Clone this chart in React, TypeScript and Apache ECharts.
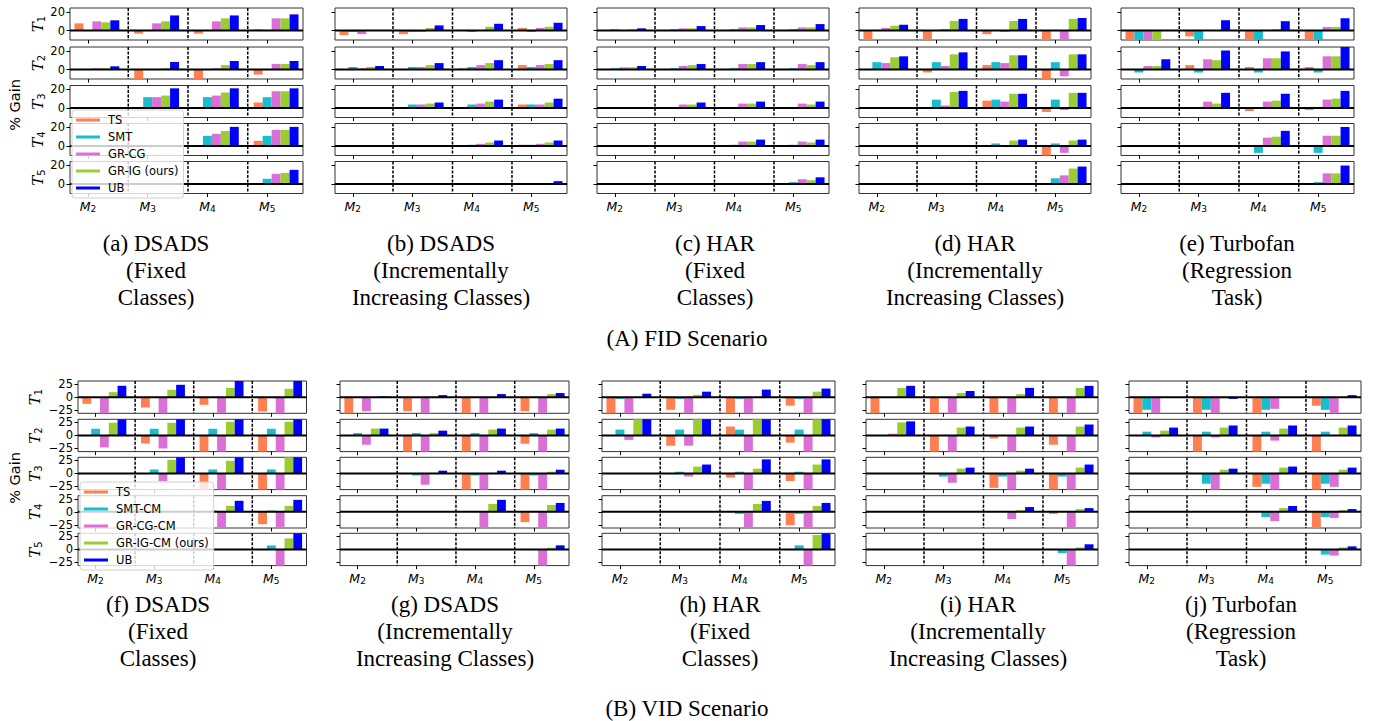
import React, { useEffect, useRef } from 'react';
import * as echarts from 'echarts';

// ---------- labels ----------
const FID_METHODS = ['TS', 'SMT', 'GR-CG', 'GR-IG (ours)', 'UB'];
const VID_METHODS = ['TS', 'SMT-CM', 'GR-CG-CM', 'GR-IG-CM (ours)', 'UB'];
const MODEL_LABELS = ['2', '3', '4', '5'];
const TASK_LABELS = ['1', '2', '3', '4', '5'];
const FID_TICKS = [0, 20];
const VID_TICKS = [-25, 0, 25];
const FID_CAPTIONS = [
  '(a) DSADS\n(Fixed\nClasses)',
  '(b) DSADS\n(Incrementally\nIncreasing Classes)',
  '(c) HAR\n(Fixed\nClasses)',
  '(d) HAR\n(Incrementally\nIncreasing Classes)',
  '(e) Turbofan\n(Regression\nTask)',
];
const VID_CAPTIONS = [
  '(f) DSADS\n(Fixed\nClasses)',
  '(g) DSADS\n(Incrementally\nIncreasing Classes)',
  '(h) HAR\n(Fixed\nClasses)',
  '(i) HAR\n(Incrementally\nIncreasing Classes)',
  '(j) Turbofan\n(Regression\nTask)',
];
const SCENARIO_TITLES = ['(A) FID Scenario', '(B) VID Scenario'];

// ---------- data: rows = tasks T1..T5, columns = models M2..M5 ----------
const n = null;
// (a) FID DSADS fixed
const A_TS = [[7.7, -3.2, -3.2, 1.4], [0, -12, -12, -5.3], [n, 0, 0, 6], [n, n, 0, 5.6], [n, n, n, 0]];
const A_SMT = [[0, 0, 0, 0], [0, 0, 0, 0], [n, 11.6, 11.6, 11.6], [n, n, 10.9, 10.9], [n, n, n, 5.6]];
const A_CG = [[9.8, 7.7, 9.8, 13], [1.4, 0, 1.4, 6], [n, 11.6, 13.3, 17.9], [n, n, 13, 17.2], [n, n, n, 10.9]];
const A_IG = [[8.8, 9.8, 13, 13], [1.4, 1.4, 4.9, 6], [n, 13.3, 16.5, 17.9], [n, n, 16.1, 17.2], [n, n, n, 11.9]];
const A_UB = [[10.9, 16.1, 16.1, 17.2], [3.5, 8.1, 9.1, 9.1], [n, 21, 21, 21], [n, n, 20.4, 20.4], [n, n, n, 15.1]];
// (b) FID DSADS incremental
const B_TS = [[-4.8, -3.8, 0, 2.8], [0, 0, 1.4, 4.8], [n, 0, 0, 3.8], [n, n, 0, 1.4], [n, n, n, 0]];
const B_SMT = [[-1.4, -1.4, -1.4, -1.4], [2.8, 2.8, 2.8, 2.8], [n, 3.8, 3.8, 3.8], [n, n, 1.4, 1.4], [n, n, n, 0.7]];
const B_CG = [[-3.8, -1.4, 0, 2.8], [1.4, 2.8, 4.8, 4.8], [n, 3.8, 4.8, 3.8], [n, n, 2.4, 2.4], [n, n, n, 0.7]];
const B_IG = [[0, 2.8, 4.1, 4.1], [2.8, 4.8, 6.9, 5.9], [n, 4.8, 6.9, 5.9], [n, n, 3.8, 3.8], [n, n, n, 0.7]];
const B_UB = [[0, 5.5, 7.2, 8.3], [3.8, 6.9, 10, 10], [n, 5.9, 9, 10], [n, n, 5.9, 5.9], [n, n, n, 3.1]];
// (c) FID HAR fixed
const C_TS = [[0, 0, 0, 0], [0, 0, 0, 0], [n, 0, 0, 0], [n, n, 0, 0], [n, n, n, 0]];
const C_SMT = [[1.4, 1.4, 1.4, 1.4], [1.4, 1.4, 1.4, 1.4], [n, 0, 0, 0], [n, n, 1.4, 1.4], [n, n, n, 2.1]];
const C_CG = [[0, 2.4, 3.4, 3.4], [2.4, 3.8, 5.9, 5.9], [n, 3.8, 4.8, 4.8], [n, n, 4.8, 4.8], [n, n, n, 5.2]];
const C_IG = [[1.4, 2.4, 3.4, 3.4], [2.4, 4.8, 5.9, 4.8], [n, 3.8, 4.8, 3.8], [n, n, 4.8, 3.8], [n, n, n, 4.1]];
const C_UB = [[2.4, 4.8, 5.9, 6.9], [3.8, 5.9, 7.9, 7.9], [n, 5.9, 6.9, 6.9], [n, n, 6.9, 6.9], [n, n, n, 7.2]];
// (d) FID HAR incremental
const D_TS = [[-12, -12, -3.8, -12], [0, -3.1, 4.8, -12], [n, 0, 7.9, -4.1], [n, n, 0, -12], [n, n, n, 0]];
const D_SMT = [[0, 0, 0, 0], [7.9, 7.9, 7.9, 7.9], [n, 9, 9, 9], [n, n, 2.8, 2.8], [n, n, n, 6.2]];
const D_CG = [[2.8, 1.7, -1.4, -12], [6.9, 3.8, 6.9, -7.2], [n, 2.8, 6.9, -2.1], [n, n, 0, -7.2], [n, n, n, 9.3]];
const D_IG = [[5.2, 10.3, 10.3, 12.4], [13.1, 16.2, 15.2, 16.2], [n, 17.2, 15.2, 16.2], [n, n, 5.9, 5.9], [n, n, n, 16.5]];
const D_UB = [[6.2, 12.4, 12.4, 13.4], [14.1, 18.3, 15.2, 16.2], [n, 18.3, 15.2, 16.2], [n, n, 6.9, 6.9], [n, n, n, 18.6]];
// (e) FID Turbofan
const E_TS = [[-12, -6.2, -12, -12], [0, 4.8, 2.8, 2.8], [n, 0, -3.1, -2.1], [n, n, 0, 0], [n, n, n, 0]];
const E_SMT = [[-12, -12, -12, -12], [-3.1, -3.1, -3.1, -3.1], [n, 0, 0, 0], [n, n, -7.2, -7.2], [n, n, n, 2.1]];
const E_CG = [[-12, 0, 0, 3.8], [3.8, 11, 12, 14.1], [n, 6.9, 6.9, 9], [n, n, 9, 11], [n, n, n, 11.4]];
const E_IG = [[-12, 0, 1.4, 3.8], [3.8, 10, 12, 14.1], [n, 4.8, 7.9, 10], [n, n, 10, 11], [n, n, n, 11.4]];
const E_UB = [[0, 11, 10, 13.1], [11, 20.3, 19.3, 24], [n, 16.2, 15.2, 18.3], [n, n, 16.2, 20.3], [n, n, n, 19.7]];
// (f) VID DSADS fixed
const F_TS = [[-12.8, -19.9, -14.7, -27.6], [0, -15.4, -35, -35], [n, 0, -35, -35], [n, n, 0, -23.7], [n, n, n, 0]];
const F_SMT = [[0, 0, 0, 0], [12.8, 12.8, 12.8, 12.8], [n, 7.7, 7.7, 7.7], [n, n, 2.5, 2.5], [n, n, n, 7.7]];
const F_CG = [[-35, -35, -35, -35], [-23, -25, -35, -35], [n, -14.7, -35, -35], [n, n, -35, -35], [n, n, n, -35]];
const F_IG = [[9.6, 14.1, 17.9, 16], [24.4, 24.4, 26.3, 26.3], [n, 26.3, 24.4, 35], [n, n, 11.5, 11.5], [n, n, n, 21.2]];
const F_UB = [[21.8, 23.7, 35, 35], [35, 35, 35, 35], [n, 35, 35, 35], [n, n, 21.2, 23], [n, n, n, 35]];
// (g) VID DSADS incremental
const G_TS = [[-35, -27, -35, -27], [0, -35, -35, -15.8], [n, 0, -35, -35], [n, n, 0, -19.7], [n, n, n, 0]];
const G_SMT = [[0, 0, 0, 0], [4.6, 4.6, 4.6, 4.6], [n, -3.9, -3.9, -3.9], [n, n, 0, 0], [n, n, n, 0]];
const G_CG = [[-27, -35, -35, -35], [-17.8, -35, -35, -35], [n, -21.7, -35, -35], [n, n, -35, -35], [n, n, n, -35]];
const G_IG = [[0, 0, 0, 5.9], [13.2, 4.6, 11.2, 11.2], [n, 0, 0, 3.3], [n, n, 15.1, 13.2], [n, n, n, 3.3]];
const G_UB = [[1.3, 3.9, 5.9, 7.9], [13.2, 9.2, 13.2, 13.2], [n, 5.3, 5.3, 7.2], [n, n, 23, 17.1], [n, n, n, 7.9]];
// (h) VID HAR fixed
const H_TS = [[-35, -24.3, -35, -16.4], [0, -19.7, 17.1, -13.8], [n, 0, -7.9, -14.5], [n, n, 0, -25.7], [n, n, n, 0]];
const H_SMT = [[-3.3, -3.3, -3.3, -3.3], [11.2, 11.2, 11.2, 11.2], [n, 3.3, 3.3, 3.3], [n, n, -3.9, -3.9], [n, n, n, 7.9]];
const H_CG = [[-35, -35, -35, -35], [-8.6, -19.7, -35, -35], [n, -5.9, -35, -35], [n, n, -35, -35], [n, n, n, -35]];
const H_IG = [[0, 4.6, 0, 10.5], [35, 35, 35, 35], [n, 13.2, 9.2, 17.1], [n, n, 15.1, 11.2], [n, n, n, 27.6]];
const H_UB = [[6.6, 10.5, 14.5, 16.4], [35, 35, 35, 35], [n, 17.1, 27, 27], [n, n, 21, 17.1], [n, n, n, 35]];
// (i) VID HAR incremental
const I_TS = [[-35, -35, -35, -35], [0, -35, -5.9, -17.8], [n, 0, -27.6, -35], [n, n, 0, -3.9], [n, n, n, 0]];
const I_SMT = [[0, 0, 0, 0], [0, 0, 0, 0], [n, -5.9, -5.9, -5.9], [n, n, 0, 0], [n, n, n, -7.2]];
const I_CG = [[0, -35, -35, -35], [3.3, -35, -35, -35], [n, -17.8, -35, -35], [n, n, -13.8, -35], [n, n, n, -35]];
const I_IG = [[17.8, 7.9, 5.9, 17.8], [25, 15.1, 15.1, 17.1], [n, 9.2, 5.3, 11.2], [n, n, 3.3, 5.3], [n, n, n, 3.9]];
const I_UB = [[21.7, 11.8, 17.8, 21.7], [27, 17.1, 17.1, 21], [n, 11.2, 9.2, 17.1], [n, n, 9.2, 7.2], [n, n, n, 9.9]];
// (j) VID Turbofan
const J_TS = [[-35, -35, -35, -16.4], [0, -35, -35, -35], [n, 0, -25.7, -35], [n, n, 0, -35], [n, n, n, 0]];
const J_SMT = [[-24.3, -24.3, -24.3, -24.3], [7.2, 7.2, 7.2, 7.2], [n, -19.7, -19.7, -19.7], [n, n, -9.9, -9.9], [n, n, n, -9.9]];
const J_CG = [[-35, -35, -22.4, -35], [-3.9, -3.9, -9.9, 0], [n, -35, -35, -25.7], [n, n, -17.8, -11.8], [n, n, n, -11.8]];
const J_IG = [[0, -2, 0, 0], [9.2, 15.1, 13.2, 15.1], [n, 7.2, 11.2, 7.2], [n, n, 7.2, 3.3], [n, n, n, 3.9]];
const J_UB = [[0, -3.3, 0, 3.9], [15.1, 19.1, 19.1, 19.1], [n, 9.2, 13.2, 11.2], [n, n, 11.2, 5.3], [n, n, n, 5.9]];

const FID_PANELS = [
  [A_TS, A_SMT, A_CG, A_IG, A_UB],
  [B_TS, B_SMT, B_CG, B_IG, B_UB],
  [C_TS, C_SMT, C_CG, C_IG, C_UB],
  [D_TS, D_SMT, D_CG, D_IG, D_UB],
  [E_TS, E_SMT, E_CG, E_IG, E_UB],
];
const VID_PANELS = [
  [F_TS, F_SMT, F_CG, F_IG, F_UB],
  [G_TS, G_SMT, G_CG, G_IG, G_UB],
  [H_TS, H_SMT, H_CG, H_IG, H_UB],
  [I_TS, I_SMT, I_CG, I_IG, I_UB],
  [J_TS, J_SMT, J_CG, J_IG, J_UB],
];

// ---------- styling / layout ----------
const COLORS = ['#FF7F50', '#17BECF', '#DA70D6', '#9ACD32', '#0000FF'];
const BAR_W = 0.15;
const X_MIN = -0.3;
const X_MAX = 3.6;
const DIVIDERS = [0.675, 1.675, 2.675];
const SANS = 'DejaVu Sans';
const SERIF = 'Liberation Serif';

const SECTIONS = [
  {
    methods: FID_METHODS, panels: FID_PANELS, ticks: FID_TICKS, yMin: -10, yMax: 24,
    lefts: [70, 335, 597, 859, 1121], widths: [233, 232, 232, 232, 233],
    tops: [8, 47, 85.5, 123.5, 161.5], rowH: 32, nameGap: 22,
    captions: FID_CAPTIONS, capX: [156, 441, 715, 975, 1237], capTop: 229.5,
    titleY: 338, gainY: 105,
    legend: { left: 72, top: 110 },
  },
  {
    methods: VID_METHODS, panels: VID_PANELS, ticks: VID_TICKS, yMin: -31, yMax: 31,
    lefts: [78, 340, 602, 866, 1129], widths: [228.5, 229, 233, 232, 232],
    tops: [381, 419.3, 457.3, 495.7, 533.3], rowH: 32.3, nameGap: 35,
    captions: VID_CAPTIONS, capX: [158, 445, 720, 978, 1241], capTop: 590.5,
    titleY: 708, gainY: 478,
    legend: { left: 80, top: 482 },
  },
];

function renderBar(params: any, api: any) {
  const x = api.value(0);
  const v = api.value(1);
  const a = api.coord([x - BAR_W / 2, v]);
  const b = api.coord([x + BAR_W / 2, 0]);
  const cs = params.coordSys;
  const shape = echarts.graphic.clipRectByRect(
    { x: a[0], y: Math.min(a[1], b[1]), width: b[0] - a[0], height: Math.abs(b[1] - a[1]) },
    { x: cs.x, y: cs.y, width: cs.width, height: cs.height }
  );
  if (!shape) return null;
  return { type: 'rect', shape, style: { fill: api.visual('color') } };
}

function renderGuide(params: any, api: any) {
  const kind = api.value(0);
  const pos = api.value(1);
  const cs = params.coordSys;
  if (kind === 0) {
    const y = api.coord([0, 0])[1];
    return {
      type: 'line',
      shape: { x1: cs.x, y1: y, x2: cs.x + cs.width, y2: y },
      style: { stroke: '#000', lineWidth: 2 },
    };
  }
  const px = api.coord([pos, 0])[0];
  return {
    type: 'line',
    shape: { x1: px, y1: cs.y, x2: px, y2: cs.y + cs.height },
    style: { stroke: '#000', lineWidth: 1.5, lineDash: [3, 1.5] },
  };
}

const fmtTick = (v: number) => (v < 0 ? '\u2212' + Math.abs(v) : String(v));

function buildOption() {
  const grid: any[] = [];
  const xAxis: any[] = [];
  const yAxis: any[] = [];
  const series: any[] = [];
  const graphic: any[] = [];
  const legend: any[] = [];

  SECTIONS.forEach((sec, si) => {
    sec.panels.forEach((panel, p) => {
      for (let r = 0; r < 5; r++) {
        const gi = grid.length;
        grid.push({
          left: sec.lefts[p], top: sec.tops[r], width: sec.widths[p], height: sec.rowH,
          show: true, borderColor: '#333', borderWidth: 1, backgroundColor: 'transparent',
        });
        xAxis.push({
          gridIndex: gi, type: 'value', min: X_MIN, max: X_MAX, position: 'bottom',
          axisLine: { show: false, onZero: false },
          splitLine: { show: false },
          axisTick: { show: true, customValues: [0, 1, 2, 3], length: 3.5, lineStyle: { color: '#000', width: 1 } },
          axisLabel: {
            show: r === 4, customValues: [0, 1, 2, 3], margin: 5,
            formatter: (v: number) => `{m|M}{s|${MODEL_LABELS[Math.round(v)]}}`,
            rich: {
              m: { fontStyle: 'italic', fontSize: 12.5, fontFamily: SANS, color: '#000', lineHeight: 15 },
              s: { fontSize: 9, fontFamily: SANS, color: '#000', verticalAlign: 'bottom', lineHeight: 10 },
            },
          },
        });
        yAxis.push({
          gridIndex: gi, type: 'value', min: sec.yMin, max: sec.yMax, position: 'left',
          axisLine: { show: false, onZero: false },
          splitLine: { show: false },
          axisTick: { show: true, customValues: sec.ticks, length: 3.5, lineStyle: { color: '#000', width: 1 } },
          axisLabel: {
            show: p === 0, customValues: sec.ticks, margin: 5, fontSize: 11.5,
            fontFamily: SANS, color: '#000', formatter: fmtTick,
          },
          name: p === 0 ? `{t|T}{s|${TASK_LABELS[r]}}` : '',
          nameLocation: 'middle', nameRotate: 90, nameGap: sec.nameGap,
          nameTextStyle: {
            rich: {
              t: { fontStyle: 'italic', fontSize: 15, fontFamily: 'DejaVu Serif', color: '#000', lineHeight: 17 },
              s: { fontSize: 10, fontFamily: SANS, color: '#000', verticalAlign: 'bottom', lineHeight: 11 },
            },
          },
        });
        panel.forEach((methodRows, m) => {
          const data: number[][] = [];
          methodRows[r].forEach((v, g) => {
            if (v !== null) data.push([g + (m - 1) * BAR_W, v as number]);
          });
          series.push({
            type: 'custom', name: sec.methods[m], xAxisIndex: gi, yAxisIndex: gi,
            data, renderItem: renderBar, itemStyle: { color: COLORS[m] }, silent: true, z: 2,
          });
        });
        series.push({
          type: 'custom', xAxisIndex: gi, yAxisIndex: gi,
          data: [[0, 0], ...DIVIDERS.map((d) => [1, d])],
          renderItem: renderGuide, silent: true, z: 3,
        });
      }
      graphic.push({
        type: 'text', x: sec.capX[p], y: sec.capTop,
        style: {
          text: sec.captions[p], font: `23px "${SERIF}"`, fill: '#000',
          textAlign: 'center', textVerticalAlign: 'top', lineHeight: 27,
        },
      });
    });
    graphic.push({
      type: 'text', x: 687, y: sec.titleY,
      style: { text: SCENARIO_TITLES[si], font: `23px "${SERIF}"`, fill: '#000', textAlign: 'center', textVerticalAlign: 'middle' },
    });
    graphic.push({
      type: 'text', x: 15, y: sec.gainY, rotation: Math.PI / 2,
      style: { text: '% Gain', font: `14.5px "${SANS}"`, fill: '#000', textAlign: 'center', textVerticalAlign: 'middle' },
    });
    legend.push({
      orient: 'vertical', left: sec.legend.left, top: sec.legend.top,
      data: sec.methods.map((name, i) => ({ name, itemStyle: { color: COLORS[i] } })),
      icon: 'rect', itemWidth: 24, itemHeight: 3, itemGap: 3,
      padding: [3, 5, 3, 4], selectedMode: false,
      backgroundColor: 'rgba(255,255,255,0.8)', borderColor: '#d0d0d0', borderWidth: 1, borderRadius: 3,
      textStyle: { fontSize: 11.5, lineHeight: 14, fontFamily: SANS, color: '#000', padding: [0, 0, 0, 3] },
      z: 10,
    });
  });

  return {
    animation: false,
    backgroundColor: '#fff',
    grid, xAxis, yAxis, series, graphic, legend,
  };
}

export default function App() {
  const ref = useRef<HTMLDivElement>(null);
  useEffect(() => {
    if (!ref.current) return;
    const chart = echarts.init(ref.current, undefined, { renderer: 'svg' });
    chart.setOption(buildOption() as any);
    return () => chart.dispose();
  }, []);
  return (
    <div
      ref={ref}
      style={{ position: 'fixed', left: 0, top: 0, width: 1374, height: 721, background: '#fff' }}
    />
  );
}
